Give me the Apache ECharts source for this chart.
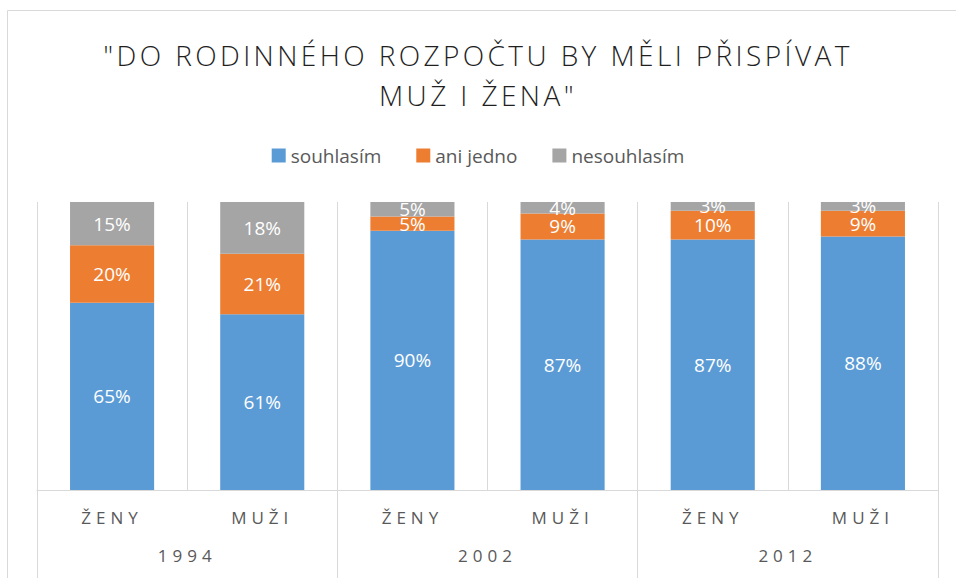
<!DOCTYPE html>
<html>
<head>
<meta charset="utf-8">
<script src="https://cdn.jsdelivr.net/npm/echarts@6/dist/echarts.min.js"></script>
<style>
html,body{margin:0;padding:0;background:#fff;}
#chart{width:956px;height:578px;}
#chart text[style*="28px"]{letter-spacing:3.4px;}
#chart text[style*="17px"]{letter-spacing:5px;}
</style>
</head>
<body>
<div id="chart"></div>
<script>
const titleText = '"DO RODINNÉHO ROZPOČTU BY MĚLI PŘISPÍVAT\nMUŽ I ŽENA"';
const categories = ['ŽENY', 'MUŽI', 'ŽENY', 'MUŽI', 'ŽENY', 'MUŽI'];
const years = ['1994', '2002', '2012'];
const seriesNames = ['souhlasím', 'ani jedno', 'nesouhlasím'];
const souhlasim = [65, 61, 90, 87, 87, 88];
const aniJedno = [20, 21, 5, 9, 10, 9];
const nesouhlasim = [15, 18, 5, 4, 3, 3];
const colors = ['#5B9BD5', '#ED7D31', '#A5A5A5'];

const font = "'Open Sans', 'Noto Sans', sans-serif";
const chart = echarts.init(document.getElementById('chart'), null, { renderer: 'svg' });

function barSeries(name, data, color) {
  return {
    name: name,
    type: 'bar',
    stack: 'total',
    xAxisIndex: 0,
    yAxisIndex: 0,
    barWidth: '56%',
    data: data,
    itemStyle: { color: color },
    label: {
      show: true,
      position: 'inside',
      formatter: '{c}%',
      color: '#ffffff',
      fontFamily: font,
      fontSize: 19
    },
    labelLayout: { hideOverlap: false },
    emphasis: { disabled: true }
  };
}

chart.setOption({
  backgroundColor: '#ffffff',
  animation: false,
  color: colors,
  title: {
    text: titleText,
    left: 'center',
    top: 30,
    textStyle: {
      fontFamily: font,
      fontWeight: 300,
      fontSize: 28,
      lineHeight: 40,
      color: '#1f1f1f'
    }
  },
  legend: {
    data: seriesNames,
    top: 141,
    left: 'center',
    itemWidth: 14,
    itemHeight: 14,
    itemGap: 35,
    icon: 'rect',
    textStyle: { fontFamily: font, fontSize: 19, color: '#595959' }
  },
  graphic: [{
    type: 'rect',
    shape: { x: 7.5, y: 10.5, width: 960, height: 620 },
    style: { fill: 'none', stroke: '#d9d9d9', lineWidth: 1 },
    silent: true
  }],
  grid: { left: 37, right: 18, top: 202, bottom: 88, containLabel: false },
  xAxis: [{
    type: 'category',
    data: categories,
    position: 'bottom',
    axisLine: { show: true, lineStyle: { color: '#d9d9d9', width: 1 } },
    axisTick: { show: false },
    splitLine: { show: true, interval: 0, lineStyle: { color: '#d9d9d9', width: 1 } },
    axisLabel: {
      interval: 0,
      margin: 19,
      fontFamily: font,
      fontSize: 17,
      color: '#595959'
    }
  }, {
    type: 'category',
    data: years,
    position: 'bottom',
    axisLine: { show: false },
    axisTick: { show: true, interval: 0, length: 100, lineStyle: { color: '#d9d9d9', width: 1 } },
    splitLine: { show: false },
    axisLabel: {
      interval: 0,
      margin: 57,
      fontFamily: font,
      fontSize: 17,
      color: '#595959'
    }
  }],
  yAxis: {
    type: 'value',
    min: 0,
    max: 100,
    show: false,
    splitLine: { show: false }
  },
  series: [
    barSeries(seriesNames[0], souhlasim, colors[0]),
    barSeries(seriesNames[1], aniJedno, colors[1]),
    barSeries(seriesNames[2], nesouhlasim, colors[2])
  ]
});
</script>
</body>
</html>
